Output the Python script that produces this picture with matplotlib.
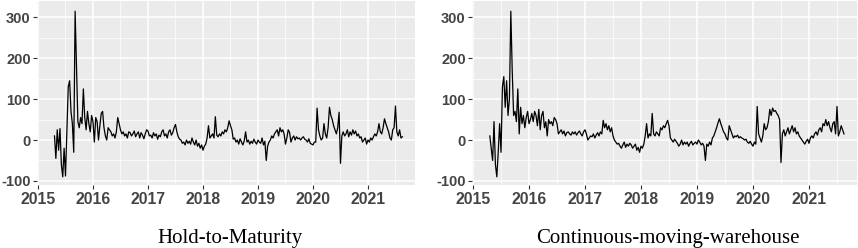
import numpy as np
import matplotlib
matplotlib.use("Agg")
from matplotlib import pyplot as plt
from matplotlib.ticker import MultipleLocator

plt.rcParams["axes.unicode_minus"] = False

# weekly-ish sampling, one row = one quarter (10 points, step 0.025 yr)
start_year = 2015.3
step = 0.025

hold_to_maturity = [
    10, -45, 25, -25, 28, -60, -90, -20, -88, 25,
    130, 145, 70, 40, -30, 315, 175, 45, 30, 55,
    40, 125, 55, 25, 70, 40, 20, 60, 45, -5,
    55, 45, 0, 35, 65, 70, 30, 10, 0, 30,
    25, 20, 10, 15, 5, 20, 55, 40, 25, 15,
    20, 10, 15, 5, 20, 18, 10, 15, 22, 8,
    15, 20, 5, 18, 12, 3, 15, 25, 22, 10,
    12, 5, 18, 10, 15, 2, 12, 8, 20, 25,
    10, 15, 5, 20, 25, 12, 18, 30, 38, 20,
    8, 2, 0, -8, -5, -12, 0, -8, -3, -10,
    5, -5, -12, 0, -15, -8, -20, -12, -25, -15,
    -10, 5, 35, 5, 10, 15, 5, 57, 12, 8,
    15, 10, 20, 15, 25, 20, 30, 47, 35, 25,
    2, 5, -5, 0, -10, 3, -5, -12, -2, 20,
    -5, 0, -10, -3, -8, 2, -5, -10, 0, -5,
    -8, 5, -12, -3, -50, -15, -5, 0, 10, 5,
    15, 20, 25, 10, 30, 20, 25, 15, -10, 5,
    25, 18, -5, 5, 10, 0, 8, 3, 5, 0,
    5, 8, 2, 0, -5, 3, -8, -10, -12, -5,
    -5, 78, 25, 10, 0, 5, 40, 15, 5, 30,
    80, 60, 50, 35, 25, 15, 30, 68, -57, 10,
    20, 10, 15, 25, 8, 20, 12, 25, 15, 22,
    10, 15, 5, 8, -5, 0, 5, -10, 0, -5,
    5, 0, 8, 15, 10, 20, 40, 20, 15, 30,
    52, 40, 30, 20, 5, 0, 25, 30, 83, 20,
    10, 25, 5, 8,
]

continuous_moving = [
    10, -20, -50, 45, -60, -90, -30, 40, -30, 130,
    155, 80, 145, 60, 100, 315, 170, 60, 70, 45,
    125, 15, 80, 40, 60, 30, 55, 70, 40, 50,
    65, 45, 70, 60, 35, 75, 25, 60, 70, 30,
    45, 10, 50, 40, 45, 35, 55, 50, 40, 15,
    20, 25, 15, 22, 10, 18, 20, 15, 12, 20,
    15, 20, 12, 18, 22, 15, 10, 20, 25, 15,
    0, 5, 10, 8, 15, 5, 12, 18, 10, 20,
    15, 48, 30, 40, 25, 35, 20, 30, 10, 0,
    -5, -10, -8, -15, -20, -12, -5, -18, -10, -15,
    -8, -12, -20, -15, -10, -25, -18, -30, -15, -20,
    -10, 10, 40, 5, 15, 10, 65, 15, 10, 20,
    15, 10, 30, 25, 35, 30, 40, 48, 35, 5,
    0, -5, 2, -3, -8, -15, -10, 0, -12, -5,
    -10, -5, -15, -8, -3, -12, -8, -5, -10, 0,
    -5, -12, -8, -15, -50, -10, -15, -5, -12, 5,
    10, 20, 30, 42, 52, 40, 30, 20, 15, 5,
    0, 35, 25, 15, 5, 10, 8, 12, 5, 8,
    5, 3, 0, 2, -5, -8, -3, -10, -15, -5,
    -10, 82, 15, 5, -5, 10, 40, 25, 30, 45,
    75, 60, 78, 70, 72, 65, 60, 50, -55, 15,
    25, 10, 20, 30, 15, 25, 35, 20, 30, 15,
    20, 10, 5, 0, -5, -10, -3, 2, -8, 5,
    10, 5, 15, 20, 12, 25, 30, 20, 40, 35,
    50, 35, 45, 30, 20, 40, 45, 15, 82, 10,
    20, 35, 25, 15,
]

titles = ["Hold-to-Maturity", "Continuous-moving-warehouse"]
year_ticks = [2015, 2016, 2017, 2018, 2019, 2020, 2021]
value_ticks = [-100, 0, 100, 200, 300]

series = [hold_to_maturity, continuous_moving]

fig = plt.figure(figsize=(8.58, 2.48), dpi=100)
boxes = [[0.043, 0.254, 0.441, 0.742], [0.550, 0.254, 0.449, 0.742]]
title_x = [0.268, 0.778]

for box, vals, title, tx in zip(boxes, series, titles, title_x):
    ax = fig.add_axes(box)
    years = start_year + step * np.arange(len(vals))
    ax.set_facecolor("#EBEBEB")
    ax.plot(years, vals, color="black", lw=0.9)
    ax.set_xlim(2014.98, 2021.86)
    ax.set_ylim(-110, 340)
    ax.set_xticks(year_ticks)
    ax.set_yticks(value_ticks)
    ax.xaxis.set_minor_locator(MultipleLocator(0.5))
    ax.yaxis.set_minor_locator(MultipleLocator(50))
    ax.grid(which="major", color="white", lw=1.1)
    ax.grid(which="minor", color="white", lw=0.5)
    ax.set_axisbelow(True)
    for s in ax.spines.values():
        s.set_visible(False)
    ax.tick_params(which="major", length=3, color="#333333", pad=2)
    ax.tick_params(axis="y", which="major", pad=1.5)
    ax.tick_params(which="minor", length=0)
    for lab in ax.get_xticklabels() + ax.get_yticklabels():
        lab.set_fontfamily("Liberation Sans")
        lab.set_fontweight("bold")
        lab.set_color("#444444")
    for lab in ax.get_xticklabels():
        lab.set_fontsize(11.3)
    for lab in ax.get_yticklabels():
        lab.set_fontsize(10.5)
    fig.text(tx, 0.04, title, ha="center", va="center",
             fontfamily="Liberation Serif", fontsize=15)

fig.savefig("out.png", dpi=100)
